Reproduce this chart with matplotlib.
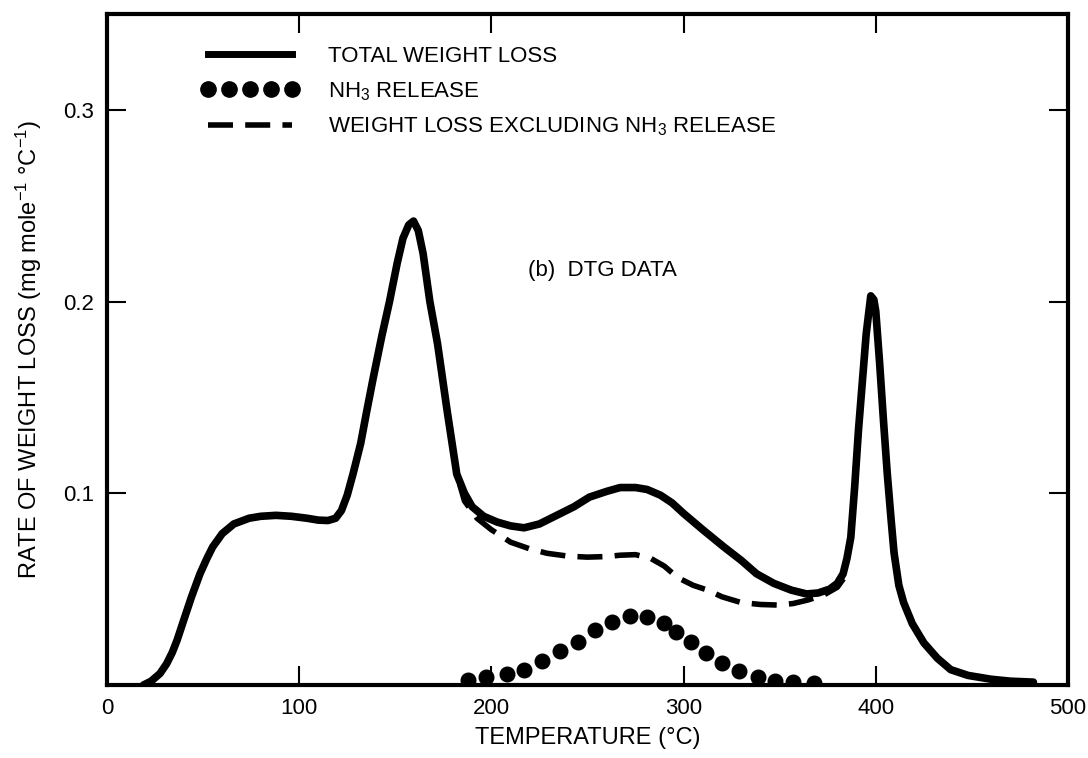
import matplotlib
matplotlib.use("Agg")
import matplotlib.pyplot as plt
from matplotlib.lines import Line2D

plt.rcParams['font.family'] = ['Liberation Sans', 'DejaVu Sans']
plt.rcParams['mathtext.default'] = 'regular'

# Total weight loss (solid curve)
temp_total = [19, 23, 27.6, 31, 34, 36.5, 40, 44, 48.4, 52, 55, 60, 66, 74, 80, 88, 96, 104,
              110, 115, 119, 122, 125, 128, 132, 135, 138.5, 143, 147, 151, 154, 157, 159.5,
              162, 164.5, 168, 172, 177, 182, 186, 190, 196, 203, 210, 217, 225, 234, 243,
              251, 260, 267, 275, 281, 288, 294, 300, 310, 321, 330, 338, 347, 356, 364,
              370, 376, 380, 383, 385, 387, 389, 391, 393, 395, 397.4, 399, 400, 402, 404,
              406, 408, 409.5, 412, 414.5, 419, 425, 432, 439, 448, 460, 470, 482]
rate_total = [0.0, 0.002, 0.006, 0.011, 0.017, 0.0234, 0.034, 0.046, 0.058, 0.066, 0.072,
              0.079, 0.084, 0.087, 0.088, 0.0885, 0.088, 0.087, 0.086, 0.0858, 0.087, 0.091,
              0.099, 0.110, 0.126, 0.142, 0.160, 0.182, 0.200, 0.220, 0.233, 0.240, 0.242,
              0.237, 0.225, 0.200, 0.178, 0.143, 0.110, 0.100, 0.093, 0.088, 0.085, 0.083,
              0.082, 0.084, 0.0885, 0.093, 0.098, 0.101, 0.103, 0.103, 0.102, 0.099, 0.095,
              0.0895, 0.081, 0.072, 0.065, 0.058, 0.053, 0.0495, 0.0475, 0.048, 0.050,
              0.053, 0.058, 0.066, 0.077, 0.103, 0.133, 0.158, 0.183, 0.203, 0.201, 0.195,
              0.168, 0.138, 0.110, 0.086, 0.069, 0.052, 0.043, 0.032, 0.022, 0.014, 0.008,
              0.005, 0.003, 0.002, 0.0015]

# Weight loss excluding NH3 release (dashed curve)
temp_excl = [177, 182, 186, 192.5, 200, 210, 220, 229, 240, 250, 260, 267, 275, 283, 290,
             297, 305, 312.5, 320, 330, 340, 349, 357, 364.5, 373, 380, 385]
rate_excl = [0.143, 0.110, 0.096, 0.087, 0.081, 0.0745, 0.071, 0.0687, 0.0672, 0.0667,
             0.067, 0.0677, 0.068, 0.066, 0.062, 0.056, 0.052, 0.0495, 0.046, 0.043, 0.042,
             0.0417, 0.0425, 0.0443, 0.047, 0.051, 0.058]

# NH3 release (dots)
temp_nh3 = [188, 197, 208, 217, 226.6, 235.5, 245, 254, 263, 272, 281, 289.6, 296, 304,
            311.5, 320, 328.8, 338.5, 347.4, 357, 367.7]
rate_nh3 = [0.0026, 0.004, 0.006, 0.008, 0.0125, 0.0177, 0.0224, 0.0286, 0.0328, 0.036,
            0.0354, 0.0323, 0.0276, 0.0224, 0.0167, 0.0115, 0.0073, 0.0042, 0.002, 0.0015,
            0.001]

x_ticks = [0, 100, 200, 300, 400, 500]
y_ticks = [0.1, 0.2, 0.3]

fig = plt.figure(figsize=(10.88, 7.58), dpi=100)
ax = fig.add_axes([0.0983, 0.0963, 0.8833, 0.8852])

ax.plot(temp_total, rate_total, color='black', lw=5.5, solid_joinstyle='round',
        solid_capstyle='round')
ax.plot(temp_excl, rate_excl, color='black', lw=4, dashes=(4.5, 2.2))
ax.plot(temp_nh3, rate_nh3, 'o', color='black', ms=10.5, ls='none')

ax.set_xlim(0, 500)
ax.set_ylim(0, 0.35)
ax.set_xticks(x_ticks)
ax.set_yticks(y_ticks)
ax.set_xticklabels([str(t) for t in x_ticks])
ax.set_yticklabels([str(t) for t in y_ticks])
ax.tick_params(direction='in', length=14, width=1.5, top=True, right=True,
               labelsize=16, pad=9)
for s in ax.spines.values():
    s.set_linewidth(3)

ax.set_xlabel('TEMPERATURE (°C)', fontsize=17, labelpad=6)
ax.set_ylabel('RATE OF WEIGHT LOSS (mg mole$^{-1}$ °C$^{-1}$)', fontsize=17, labelpad=14)

ax.text(258, 0.216, '(b)  DTG DATA', fontsize=16, ha='center', va='center')

handles = [
    Line2D([], [], color='black', lw=5),
    Line2D([], [], color='black', marker='o', ms=11, ls='none'),
    Line2D([], [], color='black', lw=4, dashes=(4.5, 2.2)),
]
labels = ['TOTAL WEIGHT LOSS', 'NH$_3$ RELEASE', 'WEIGHT LOSS EXCLUDING NH$_3$ RELEASE']
ax.legend(handles, labels, loc='upper left', bbox_to_anchor=(0.077, 0.982),
          frameon=False, fontsize=16, numpoints=5, handlelength=4.4,
          handletextpad=1.3, labelspacing=0.58)

fig.savefig('out.png', dpi=100)
